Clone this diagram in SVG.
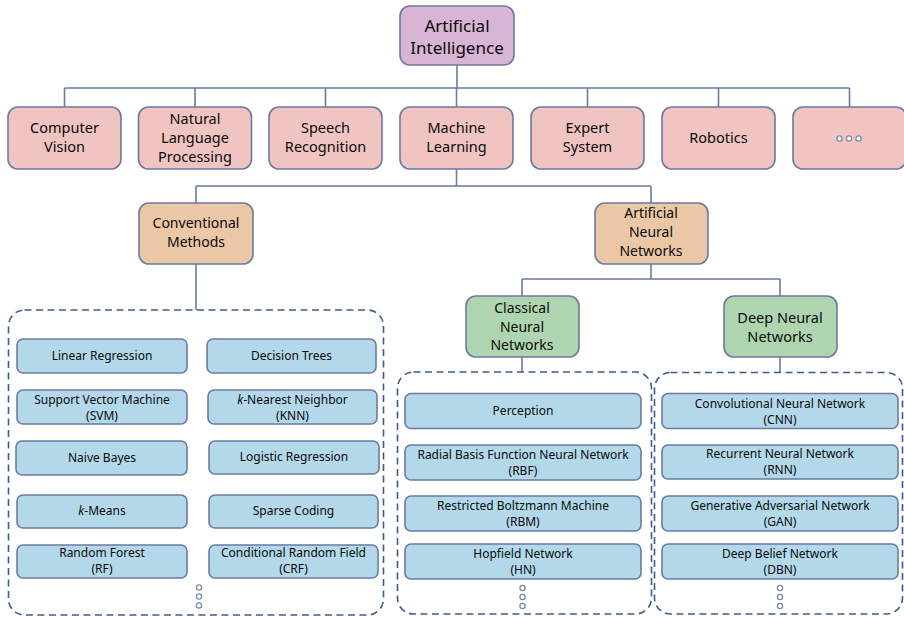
<svg xmlns="http://www.w3.org/2000/svg" width="904" height="617" viewBox="0 0 904 617">
<style>
text{font-family:"Noto Sans","Liberation Sans",sans-serif;fill:#0a0a0a;text-anchor:middle}
.n{stroke:#6B7AA1;stroke-width:1.6}
.top{fill:#D8B4D5}
.l1{fill:#F0C5C1}
.l2{fill:#ECC7A6}
.l3{fill:#AED5AF}
.it{fill:#B3D8EA}
.t1{font-size:14.5px}
.t2{font-size:14px}
.t0{font-size:17px}
.ti{font-size:12px}
.dash{fill:none;stroke:#3E5A93;stroke-width:1.6;stroke-dasharray:7 4.5}
.c{fill:none;stroke:#6B7AA1;stroke-width:1.6}
.dot{fill:#fff;stroke:#7A88AC;stroke-width:1.3}
</style>
<g id="connectors">
<path class="c" d="M457 65V88M64.5 88H849.5M64.5 88V107M195 88V107M325.5 88V107M456.5 88V107M587.5 88V107M718.5 88V107M849.5 88V107"/>
<path class="c" d="M456.5 169V186M196 186H651M196 186V203M651 186V203"/>
<path class="c" d="M196 264V310"/>
<path class="c" d="M651 264V279M522 279H780M522 279V296M780 279V296"/>
<path class="c" d="M522 357V372M780 357V372"/>
</g>
<g id="group-conventional"><rect class="dash" x="8.5" y="310" width="375" height="305" rx="16"/></g>
<g id="group-classical"><rect class="dash" x="397.5" y="372" width="254" height="242" rx="16"/></g>
<g id="group-deep"><rect class="dash" x="654.5" y="372.5" width="248" height="241.5" rx="16"/></g>

<g id="ai"><rect class="n top" x="400" y="6" width="114" height="59" rx="10"/><text class="t0" x="457" y="32">Artificial</text><text class="t0" x="457" y="54">Intelligence</text></g>

<g id="cv"><rect class="n l1" x="8" y="107" width="113" height="62" rx="10"/><text class="t1" x="64.5" y="133">Computer</text><text class="t1" x="64.5" y="152">Vision</text></g>
<g id="nlp"><rect class="n l1" x="138.5" y="107" width="113" height="62" rx="10"/><text class="t1" x="195" y="124">Natural</text><text class="t1" x="195" y="143">Language</text><text class="t1" x="195" y="162">Processing</text></g>
<g id="sr"><rect class="n l1" x="269" y="107" width="113" height="62" rx="10"/><text class="t1" x="325.5" y="133">Speech</text><text class="t1" x="325.5" y="152">Recognition</text></g>
<g id="ml"><rect class="n l1" x="400" y="107" width="113" height="62" rx="10"/><text class="t1" x="456.5" y="133">Machine</text><text class="t1" x="456.5" y="152">Learning</text></g>
<g id="es"><rect class="n l1" x="531" y="107" width="113" height="62" rx="10"/><text class="t1" x="587.5" y="133">Expert</text><text class="t1" x="587.5" y="152">System</text></g>
<g id="rob"><rect class="n l1" x="662" y="107" width="113" height="62" rx="10"/><text class="t1" x="718.5" y="143">Robotics</text></g>
<g id="more"><rect class="n l1" x="793" y="107" width="113" height="62" rx="10"/><circle class="dot" cx="839.5" cy="138.5" r="2.6"/><circle class="dot" cx="849" cy="138.5" r="2.6"/><circle class="dot" cx="858.5" cy="138.5" r="2.6"/></g>

<g id="cm"><rect class="n l2" x="139" y="203" width="114" height="61" rx="10"/><text class="t2" x="196" y="228">Conventional</text><text class="t2" x="196" y="247">Methods</text></g>
<g id="ann"><rect class="n l2" x="595" y="203" width="113" height="61" rx="10"/><text class="t2" x="651" y="218">Artificial</text><text class="t2" x="651" y="237">Neural</text><text class="t2" x="651" y="256">Networks</text></g>

<g id="cnn-group"><rect class="n l3" x="466" y="296" width="113" height="61" rx="10"/><text class="t2" x="522" y="313">Classical</text><text class="t2" x="522" y="331.5">Neural</text><text class="t2" x="522" y="350">Networks</text></g>
<g id="dnn-group"><rect class="n l3" x="724" y="296" width="113" height="61" rx="10"/><text class="t1" x="780" y="323">Deep Neural</text><text class="t1" x="780" y="342">Networks</text></g>

<g id="lr"><rect class="n it" x="17" y="339" width="170" height="34" rx="6"/><text class="ti" x="102" y="360">Linear  Regression</text></g>
<g id="dt"><rect class="n it" x="207" y="339" width="169" height="34" rx="6"/><text class="ti" x="291.5" y="360">Decision Trees</text></g>
<g id="svm"><rect class="n it" x="17" y="390" width="170" height="34" rx="6"/><text class="ti" x="102" y="404">Support Vector  Machine</text><text class="ti" x="102" y="420">(SVM)</text></g>
<g id="knn"><rect class="n it" x="208" y="390" width="169" height="34" rx="6"/><text class="ti" x="292.5" y="404"><tspan font-style="italic">k</tspan>-Nearest Neighbor</text><text class="ti" x="292.5" y="420">(KNN)</text></g>
<g id="nb"><rect class="n it" x="16" y="441" width="171" height="34" rx="6"/><text class="ti" x="102" y="462">Naive Bayes</text></g>
<g id="logr"><rect class="n it" x="209" y="441" width="170" height="33" rx="6"/><text class="ti" x="294" y="461">Logistic Regression</text></g>
<g id="km"><rect class="n it" x="17" y="495" width="170" height="33" rx="6"/><text class="ti" x="102" y="515"><tspan font-style="italic">k</tspan>-Means</text></g>
<g id="sc"><rect class="n it" x="209" y="495" width="169" height="33" rx="6"/><text class="ti" x="293.5" y="515">Sparse Coding</text></g>
<g id="rf"><rect class="n it" x="17" y="545" width="170" height="33" rx="6"/><text class="ti" x="102" y="557">Random Forest</text><text class="ti" x="102" y="573">(RF)</text></g>
<g id="crf"><rect class="n it" x="209" y="545" width="169" height="33" rx="6"/><text class="ti" x="293.5" y="557">Conditional Random Field</text><text class="ti" x="293.5" y="573">(CRF)</text></g>
<g id="dots-left"><circle class="dot" cx="199" cy="587.5" r="2.6"/><circle class="dot" cx="199" cy="596.5" r="2.6"/><circle class="dot" cx="199" cy="605.5" r="2.6"/></g>

<g id="perc"><rect class="n it" x="405" y="393.5" width="236" height="35" rx="6"/><text class="ti" x="523" y="415">Perception</text></g>
<g id="rbf"><rect class="n it" x="405" y="445" width="236" height="35" rx="6"/><text class="ti" x="523" y="459">Radial Basis Function Neural Network</text><text class="ti" x="523" y="475">(RBF)</text></g>
<g id="rbm"><rect class="n it" x="405" y="496" width="236" height="35" rx="6"/><text class="ti" x="523" y="510">Restricted Boltzmann Machine</text><text class="ti" x="523" y="526">(RBM)</text></g>
<g id="hn"><rect class="n it" x="405" y="544" width="236" height="35" rx="6"/><text class="ti" x="523" y="558">Hopfield Network</text><text class="ti" x="523" y="574">(HN)</text></g>
<g id="dots-mid"><circle class="dot" cx="522.5" cy="588" r="2.6"/><circle class="dot" cx="522.5" cy="597" r="2.6"/><circle class="dot" cx="522.5" cy="606" r="2.6"/></g>

<g id="cnn"><rect class="n it" x="662" y="393.5" width="236" height="35" rx="6"/><text class="ti" x="780" y="408">Convolutional Neural Network</text><text class="ti" x="780" y="424">(CNN)</text></g>
<g id="rnn"><rect class="n it" x="662" y="445" width="236" height="34" rx="6"/><text class="ti" x="780" y="458">Recurrent Neural Network</text><text class="ti" x="780" y="474">(RNN)</text></g>
<g id="gan"><rect class="n it" x="662" y="496" width="236" height="35" rx="6"/><text class="ti" x="780" y="510">Generative Adversarial Network</text><text class="ti" x="780" y="526">(GAN)</text></g>
<g id="dbn"><rect class="n it" x="662" y="544" width="236" height="35" rx="6"/><text class="ti" x="780" y="558">Deep Belief Network</text><text class="ti" x="780" y="574">(DBN)</text></g>
<g id="dots-right"><circle class="dot" cx="780" cy="588" r="2.6"/><circle class="dot" cx="780" cy="597" r="2.6"/><circle class="dot" cx="780" cy="606" r="2.6"/></g>
</svg>
